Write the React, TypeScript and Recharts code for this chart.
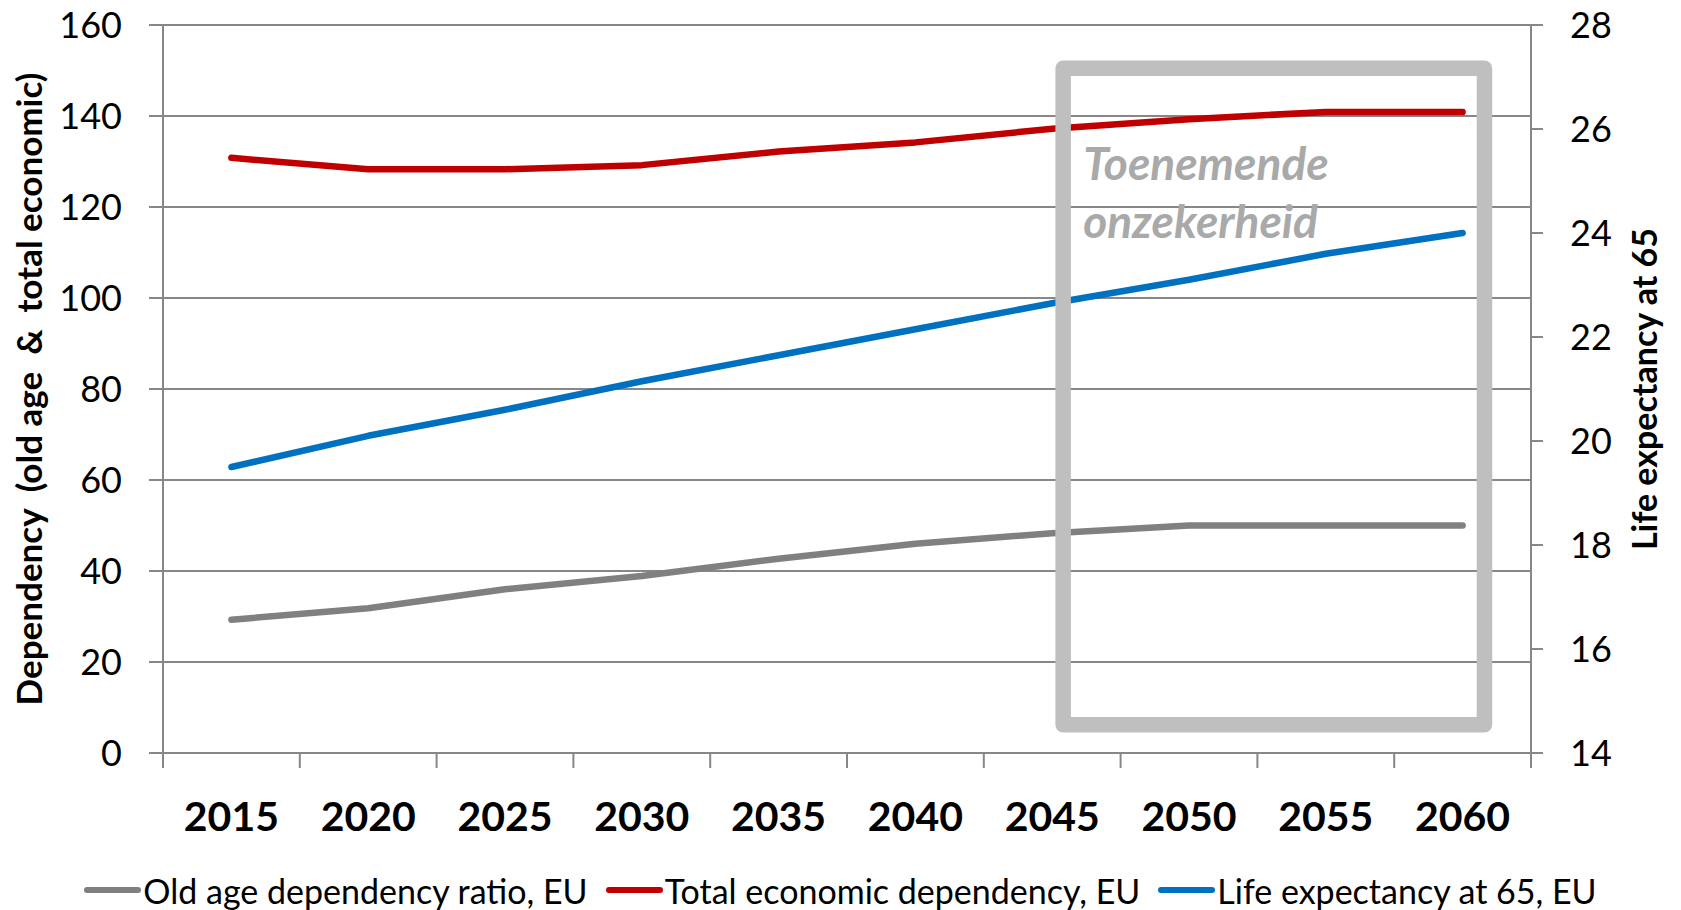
import React from "react";
import { LineChart, Line, XAxis, YAxis, CartesianGrid, Legend, ReferenceArea } from "recharts";

// values
const years = [2015, 2020, 2025, 2030, 2035, 2040, 2045, 2050, 2055, 2060];
const oldAgeDependency = [29.3, 31.8, 36.0, 38.9, 42.7, 46.0, 48.3, 50.0, 50.0, 50.0];
const totalEconomicDependency = [130.8, 128.3, 128.3, 129.2, 132.2, 134.2, 137.2, 139.3, 140.9, 140.9];
const lifeExpectancyAt65 = [19.5, 20.1, 20.6, 21.15, 21.65, 22.15, 22.65, 23.1, 23.6, 24.0];

const dependencyTicks = [0, 20, 40, 60, 80, 100, 120, 140, 160];
const lifeTicks = [14, 16, 18, 20, 22, 24, 26, 28];

const seriesOrder = ["old", "total", "life"];

const GRAY = "#808080";
const RED = "#c00000";
const BLUE = "#0070c0";
const AXIS = "#878787";
const BOX = "#bfbfbf";

// the "toenemende onzekerheid" frame, in axis units (years / left axis)
const uncertaintyBox = { x1: 2045.4, x2: 2060.8, y1: 6.2, y2: 150.5 };

const rows = years.map((year, i) => ({
  year,
  old: oldAgeDependency[i],
  total: totalEconomicDependency[i],
  life: lifeExpectancyAt65[i],
}));

// Excel puts the tick marks between categories, labels in the middle
const half = (years[1] - years[0]) / 2;
const boundaries = [...years.map((y) => y - half), years[years.length - 1] + half];
const xTicks = [...boundaries, ...years].sort((a, b) => a - b);

function YearTick(props: any) {
  const { x, y, payload } = props;
  if (years.includes(payload.value)) {
    return (
      <text x={x} y={y + 78} textAnchor="middle" fontSize={41} fontWeight="bold" fill="#000">
        {payload.value}
      </text>
    );
  }
  return <line x1={x} y1={y} x2={x} y2={y + 15} stroke={AXIS} strokeWidth={2} />;
}

function LeftTitle(props: any) {
  const cy = props.viewBox.y + props.viewBox.height / 2;
  return (
    <text x={42} y={cy} transform={`rotate(-90, 42, ${cy})`} textAnchor="middle" fontSize={35} fontWeight="bold" fill="#000">
      {"Dependency\u00a0 (old age\u00a0 &\u00a0 total economic)"}
    </text>
  );
}

function RightTitle(props: any) {
  const cy = props.viewBox.y + props.viewBox.height / 2;
  return (
    <text x={1657} y={cy} transform={`rotate(-90, 1657, ${cy})`} textAnchor="middle" fontSize={34} fontWeight="bold" fill="#000">
      Life expectancy at 65
    </text>
  );
}

function BoxLabel(props: any) {
  const { x, y } = props.viewBox;
  return (
    <text fontSize={46} fontWeight="bold" fontStyle="italic" fill="#a9a9a9">
      <tspan x={x + 20} y={y + 112}>Toenemende</tspan>
      <tspan x={x + 20} y={y + 170}>onzekerheid</tspan>
    </text>
  );
}

function ChartLegend(props: any) {
  const { payload } = props;
  return (
    <div style={{ display: "flex", justifyContent: "center", alignItems: "center", height: 40, fontSize: 34, color: "#000" }}>
      {payload.map((entry: any, i: number) => (
        <div key={entry.value} style={{ display: "flex", alignItems: "center", marginLeft: i ? 18 : 0 }}>
          <div style={{ width: 57, height: 6, borderRadius: 3, background: entry.color, marginRight: 2 }} />
          <span>{entry.value}</span>
        </div>
      ))}
    </div>
  );
}

export default function App() {
  return (
    <div style={{ position: "absolute", left: 0, top: 0, width: 1681, height: 910, background: "#fff", fontFamily: "Lato, 'Open Sans', sans-serif" }}>
      <LineChart width={1681} height={910} data={rows} margin={{ top: 25, right: 0, bottom: 0, left: 0 }}>
        <CartesianGrid yAxisId="left" vertical={false} stroke={AXIS} strokeWidth={2} />
        <XAxis
          dataKey="year"
          type="number"
          domain={[boundaries[0], boundaries[boundaries.length - 1]]}
          ticks={xTicks}
          interval={0}
          tick={<YearTick />}
          tickLine={false}
          tickSize={0}
          tickMargin={0}
          axisLine={{ stroke: AXIS, strokeWidth: 2 }}
          height={117}
        />
        <YAxis
          yAxisId="left"
          width={163}
          domain={[0, 160]}
          ticks={dependencyTicks}
          interval={0}
          tickSize={14}
          tickMargin={27}
          tick={{ fill: "#000", fontSize: 36 }}
          axisLine={{ stroke: AXIS, strokeWidth: 2 }}
          tickLine={{ stroke: AXIS, strokeWidth: 2 }}
          label={LeftTitle}
        />
        <YAxis
          yAxisId="right"
          orientation="right"
          width={150}
          domain={[14, 28]}
          ticks={lifeTicks}
          interval={0}
          tickSize={12}
          tickMargin={27}
          tick={{ fill: "#000", fontSize: 36 }}
          axisLine={{ stroke: AXIS, strokeWidth: 2 }}
          tickLine={{ stroke: AXIS, strokeWidth: 2 }}
          label={RightTitle}
        />
        <Legend
          verticalAlign="bottom"
          align="center"
          content={ChartLegend}
          itemSorter={(item: any) => seriesOrder.indexOf(item.dataKey)}
        />

        <Line
          yAxisId="left"
          dataKey="old"
          name="Old age dependency ratio, EU"
          stroke={GRAY}
          strokeWidth={6.5}
          strokeLinecap="round"
          strokeLinejoin="round"
          dot={false}
          activeDot={false}
          isAnimationActive={false}
        />
        <Line
          yAxisId="left"
          dataKey="total"
          name="Total economic dependency, EU"
          stroke={RED}
          strokeWidth={6.5}
          strokeLinecap="round"
          strokeLinejoin="round"
          dot={false}
          activeDot={false}
          isAnimationActive={false}
        />
        <Line
          yAxisId="right"
          dataKey="life"
          name="Life expectancy at 65, EU"
          stroke={BLUE}
          strokeWidth={6.5}
          strokeLinecap="round"
          strokeLinejoin="round"
          dot={false}
          activeDot={false}
          isAnimationActive={false}
        />

        <ReferenceArea
          yAxisId="left"
          x1={uncertaintyBox.x1}
          x2={uncertaintyBox.x2}
          y1={uncertaintyBox.y1}
          y2={uncertaintyBox.y2}
          fill="none"
          stroke={BOX}
          strokeWidth={15.5}
          strokeLinejoin="round"
          ifOverflow="visible"
          label={BoxLabel}
          zIndex={1000}
        />
      </LineChart>
    </div>
  );
}
